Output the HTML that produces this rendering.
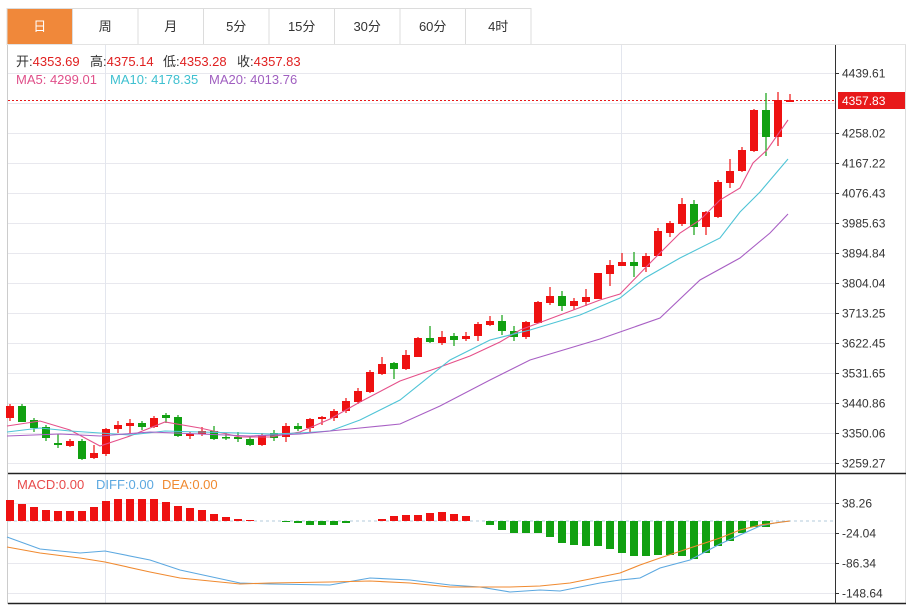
<!DOCTYPE html>
<html><head><meta charset="utf-8"><style>
body{margin:0;background:#fff;width:909px;height:605px;overflow:hidden;font-family:"Liberation Sans","Noto Sans CJK SC",sans-serif}
svg{position:absolute;left:0;top:0}
</style></head><body>
<svg id="s" width="909" height="605" xmlns="http://www.w3.org/2000/svg" font-family="Liberation Sans, Noto Sans CJK SC, sans-serif"></svg>
<script>
const s=document.getElementById('s');let h='';
const tabs=['日','周','月','5分','15分','30分','60分','4时'];
tabs.forEach((t,i)=>{const x=7+i*65.5;
h+=`<rect x="${x}" y="8.5" width="65.5" height="36" fill="${i==0?'#f0883a':'#fff'}" stroke="#dcdcdc"/>`;
h+=`<text x="${x+32.7}" y="31" font-size="13" text-anchor="middle" fill="${i==0?'#fff':'#333'}">${t}</text>`;});
h+=`<line x1="7.5" y1="44" x2="7.5" y2="604" stroke="#ccc"/>`;
h+=`<line x1="905.5" y1="44" x2="905.5" y2="604" stroke="#ddd"/>`;
h+=`<line x1="7" y1="44.5" x2="906" y2="44.5" stroke="#e3e3e3"/>`;
for(let k=0;k<14;k++){const y=73+k*30;h+=`<line x1="8" y1="${y+.5}" x2="835" y2="${y+.5}" stroke="#e8e8ee"/>`;}
[503,533,563,593].forEach(y=>h+=`<line x1="8" y1="${y+.5}" x2="835" y2="${y+.5}" stroke="#e8e8ee"/>`);
[105,621].forEach(x=>h+=`<line x1="${x+.5}" y1="45" x2="${x+.5}" y2="603" stroke="#e3e6ee"/>`);
h+=`<line x1="8" y1="473.5" x2="906" y2="473.5" stroke="#222" stroke-width="1.5"/>`;
h+=`<line x1="8" y1="603.5" x2="906" y2="603.5" stroke="#222" stroke-width="1.5"/>`;
h+=`<line x1="835.5" y1="45" x2="835.5" y2="604" stroke="#333"/>`;
const pl=['4439.61','4348.82','4258.02','4167.22','4076.43','3985.63','3894.84','3804.04','3713.25','3622.45','3531.65','3440.86','3350.06','3259.27'];
pl.forEach((p,k)=>{const y=73+k*30;if(k==1)return;h+=`<line x1="835" y1="${y+.5}" x2="839" y2="${y+.5}" stroke="#333"/><text x="842" y="${y+4.5}" font-size="12" fill="#333">${p}</text>`;});
['38.26','-24.04','-86.34','-148.64'].forEach((p,k)=>{const y=503+k*30;h+=`<line x1="835" y1="${y+.5}" x2="839" y2="${y+.5}" stroke="#333"/><text x="842" y="${y+4.5}" font-size="12" fill="#333">${p}</text>`;});
const C=[['r',406,418,404,421],['g',406,422,404,422],['g',420,428,418,432],['g',427,438,425,441],['g',443,445,434,448],['r',441,446,439,447],['g',441,459,439,460],['r',453,458,445,459],['r',429,454,428,456],['r',425,429,421,433],['r',423,426,419,433],['g',423,427,421,430],['r',418,427,416,428],['g',415,418,413,423],['g',417,436,415,437],['r',434,436,432,439],['r',431,434,427,436],['g',431,439,426,440],['g',437,438,433,440],['g',437,439,432,442],['g',439,445,436,446],['r',435,445,433,446],['g',433,438,430,441],['r',426,437,423,442],['g',426,429,423,431],['r',419,428,418,432],['r',417,419,416,425],['r',411,418,409,421],['r',401,411,398,413],['r',391,402,388,404],['r',372,392,370,393],['r',364,374,357,375],['g',363,369,362,379],['r',355,369,350,370],['r',338,357,337,357],['g',338,342,326,343],['r',337,343,331,345],['g',336,340,333,346],['r',336,339,332,341],['r',324,336,322,341],['r',321,325,316,326],['g',321,331,315,335],['g',331,337,326,341],['r',322,337,321,339],['r',302,323,301,323],['r',296,303,287,305],['g',296,306,291,311],['r',301,306,298,310],['r',297,302,289,306],['r',273,299,273,299],['r',265,274,260,286],['r',262,266,253,266],['g',262,266,252,277],['r',256,267,253,272],['r',231,256,228,256],['r',223,233,221,237],['r',204,224,198,226],['g',204,227,200,235],['r',212,227,211,235],['r',182,217,180,218],['r',171,183,159,188],['r',150,171,147,172],['r',110,151,109,152],['g',110,137,93,156],['r',100,137,92,146],['r',100,102,94,102]];
h+=`<line x1="8" y1="100.5" x2="835" y2="100.5" stroke="#e8191a" stroke-dasharray="2,2"/>`;
C.forEach((c,i)=>{const x=10+12*i;const col=c[0]=='r'?'#ee1111':'#11a011';
h+=`<line x1="${x}" y1="${c[3]}" x2="${x}" y2="${c[4]}" stroke="${col}" stroke-width="1.2"/>`;
h+=`<rect x="${x-4}" y="${c[1]}" width="8" height="${Math.max(c[2]-c[1],1.5)}" fill="${col}"/>`;});
const pts=a=>a.map(p=>p.join(',')).join(' ');
const ln=(a,c)=>h+=`<polyline points="${pts(a)}" fill="none" stroke="${c}" stroke-width="1.1"/>`;
ln([[7,426],[40,421],[70,430],[100,446],[130,436],[165,422],[200,428],[240,437],[270,437],[300,432],[330,419],[360,402],[400,381],[440,367],[470,356],[500,342],[520,330],[560,315],[600,300],[620,294],[653,260],[680,233],[700,220],[720,200],[740,188],[753,163],[767,150],[788,120]],'#e5508a');
ln([[7,432],[40,428],[70,431],[100,433],[130,435],[165,431],[200,432],[240,433],[270,434],[300,433],[330,431],[360,420],[400,400],[450,360],[490,340],[530,330],[580,315],[620,298],[645,278],[680,258],[720,238],[740,212],[760,192],[788,159]],'#4fc4d6');
ln([[7,436],[60,434],[100,436],[150,432],[200,434],[250,436],[300,434],[350,429],[400,424],[440,406],[490,380],[530,360],[600,339],[660,318],[700,280],[740,258],[770,233],[788,214]],'#a85fc4');
const M={0:500,1:504,2:507,3:510,4:511,5:511,6:511,7:507,8:501,9:499,10:499,11:499,12:499,13:502,14:506,15:508,16:510,17:514,18:517,19:519,20:520,23:522,24:523,25:525,26:525,27:525,28:523,31:519,32:516,33:515,34:515,35:513,36:512,37:514,38:516,40:525,41:530,42:533,43:533,44:533,45:537,46:543,47:545,48:546,49:546,50:549,51:553,52:556,53:556,54:555,55:555,56:556,57:559,58:553,59:546,60:541,61:533,62:527,63:527};
h+=`<line x1="8" y1="521" x2="835" y2="521" stroke="#9bbbd0" stroke-dasharray="3,3" stroke-width="0.8"/>`;
for(const k in M){const x=10+12*k,y=M[k];if(y<521)h+=`<rect x="${x-4}" y="${y}" width="8" height="${521-y}" fill="#ee1111"/>`;else h+=`<rect x="${x-4}" y="521" width="8" height="${y-521}" fill="#11a011"/>`;}
ln([[7,537],[40,549],[80,553],[105,551],[150,560],[180,570],[240,583],[270,584],[330,585],[370,578],[410,580],[450,585],[480,587],[510,592],[540,590],[560,591],[600,583],[620,580],[640,578],[660,568],[690,560],[720,544],[740,535],[760,526],[780,522],[790,521]],'#5ca8e0');
ln([[7,547],[40,553],[80,558],[105,562],[150,572],[180,578],[240,584],[270,583],[330,582],[370,581],[410,583],[450,587],[480,587],[510,587],[540,586],[570,583],[600,577],[620,573],[640,565],[660,558],[690,548],[720,538],[740,530],[760,525],[790,521]],'#f08a30');
h+=`<rect x="838" y="92" width="67" height="17" fill="#e8191a"/><text x="842" y="105" font-size="12" fill="#fff">4357.83</text>`;
h+=`<text y="66" font-size="13" fill="#333"><tspan x="16">开:</tspan><tspan fill="#e02020">4353.69</tspan><tspan x="90">高:</tspan><tspan fill="#e02020">4375.14</tspan><tspan x="163">低:</tspan><tspan fill="#e02020">4353.28</tspan><tspan x="237">收:</tspan><tspan fill="#e02020">4357.83</tspan></text>`;
h+=`<text y="84" font-size="13" fill="#e0508a"><tspan x="16">MA5: 4299.01</tspan><tspan x="110" fill="#3fc0d0">MA10: 4178.35</tspan><tspan x="209" fill="#a05fc0">MA20: 4013.76</tspan></text>`;
h+=`<text y="489" font-size="13" fill="#e84a4a"><tspan x="17">MACD:0.00</tspan><tspan x="96" fill="#5ca8e0">DIFF:0.00</tspan><tspan x="162" fill="#f08a30">DEA:0.00</tspan></text>`;
s.innerHTML=h;
</script>
</body></html>
